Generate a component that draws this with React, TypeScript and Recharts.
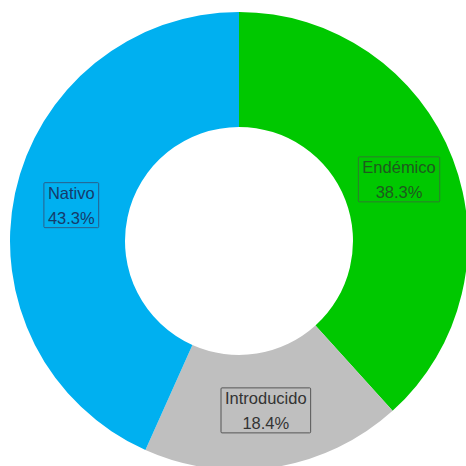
import { Cell, Pie, PieChart } from "recharts";

const categories = ["Endémico", "Introducido", "Nativo"];
const shares = [38.3, 18.4, 43.3];

const FILL = ["#00C800", "#BFBFBF", "#00B0F0"];
const INK = ["#1E5A1E", "#333333", "#163A6A"];
const BORDER = ["#2E7A2E", "#555555", "#2A5E8A"];

const data = categories.map((name, i) => ({ name, value: shares[i] }));

const RAD = Math.PI / 180;
const FONT = "'Liberation Sans', Arial, sans-serif";
const FS = 16.5;

let ctx: CanvasRenderingContext2D | null = null;
function textWidth(s: string) {
  if (!ctx) ctx = document.createElement("canvas").getContext("2d");
  if (!ctx) return s.length * 8;
  ctx.font = `${FS}px ${FONT}`;
  return ctx.measureText(s).width;
}

function BoxLabel(props: any) {
  const { cx, cy, midAngle, innerRadius, outerRadius, index } = props;
  const r = (innerRadius + outerRadius) / 2;
  const x = cx + r * Math.cos(-midAngle * RAD);
  const y = cy + r * Math.sin(-midAngle * RAD);
  const line1 = categories[index];
  const line2 = `${shares[index].toFixed(1)}%`;
  const w = Math.max(textWidth(line1), textWidth(line2)) + 8;
  const h = 45;
  return (
    <g>
      <rect
        x={x - w / 2}
        y={y - h / 2}
        width={w}
        height={h}
        fill="none"
        stroke={BORDER[index]}
        strokeWidth={1}
        rx={1}
      />
      <text
        x={x}
        y={y - 6}
        textAnchor="middle"
        fontSize={FS}
        fontFamily={FONT}
        fill={INK[index]}
      >
        {line1}
      </text>
      <text
        x={x}
        y={y + 19}
        textAnchor="middle"
        fontSize={FS}
        fontFamily={FONT}
        fill={INK[index]}
      >
        {line2}
      </text>
    </g>
  );
}

export default function App() {
  return (
    <div style={{ position: "absolute", top: 0, left: 0, background: "#fff" }}>
      <PieChart
        width={466}
        height={466}
        margin={{ top: 0, right: 0, bottom: 0, left: 0 }}
      >
        <Pie
          data={data}
          dataKey="value"
          nameKey="name"
          cx={239}
          cy={241}
          innerRadius={114}
          outerRadius={229}
          startAngle={90}
          endAngle={-270}
          stroke="none"
          labelLine={false}
          label={BoxLabel}
          isAnimationActive={false}
        >
          {data.map((d, i) => (
            <Cell key={d.name} fill={FILL[i]} />
          ))}
        </Pie>
      </PieChart>
    </div>
  );
}
